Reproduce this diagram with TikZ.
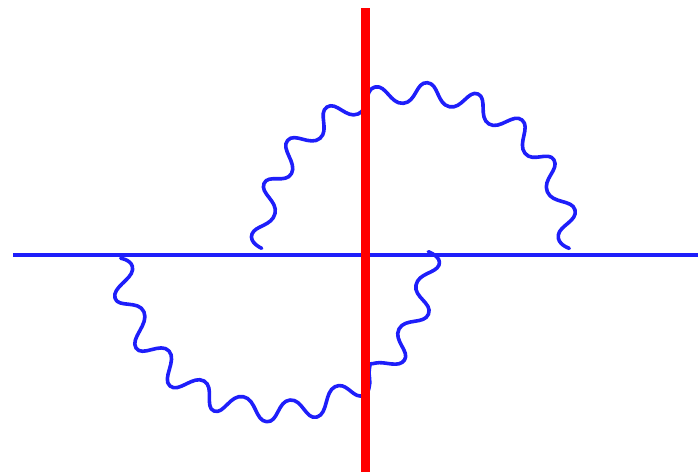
\documentclass[tikz,border=0pt]{standalone}
\usepackage{xcolor}
\usetikzlibrary{arrows.meta}
\definecolor{linkblue}{RGB}{30,30,250}
\tikzset{
  diagline/.style={draw=linkblue, line width=3pt},
  diagphoton/.style={draw=linkblue, line width=2.7pt, line cap=round,
    line join=round},
  diagcut/.style={draw=red, line width=6.2pt}
}

\begin{document}
\begin{tikzpicture}[x=0.75pt, y=-0.75pt]
  \useasboundingbox (0,0) rectangle (698,472);

  \coordinate (linein) at (13,254.5);
  \coordinate (lineout) at (698,254.5);
  \coordinate (cuttop) at (365.5,8);
  \coordinate (cutbot) at (365.5,472);

  \draw[diagline] (linein) -- (lineout);

  % upper loop
  \draw[diagphoton] plot[smooth, tension=0.9] coordinates {
    (261.7,248.3) (252,234) (275,213.5) (264,183.5) (291.5,173.5)
    (287.5,140.5) (320,138.3) (327,107) (358,114) (375,87) (403.3,103.3)
    (427.3,82.7) (449.3,106.7) (478,94) (489,124) (522,120) (525,153.3)
    (554,160) (547.3,191.7) (575,210) (558.3,235) (569.3,248.3)};

  % lower loop
  \draw[diagphoton] plot[smooth, tension=0.9] coordinates {
    (428.3,251.7) (439,265) (416,285) (428.5,314) (399,329) (404.5,360)
    (376,363) (369.5,368) (369,388) (360,396) (335,386.7) (317,417)
    (290,400) (266.7,421.7) (243.3,396.7) (214,411) (204,381) (170,386)
    (169,351) (136,348) (144,312) (115,298) (132.5,270) (120.7,258.3)};

  \draw[diagcut] (cuttop) -- (cutbot);
\end{tikzpicture}
\end{document}
